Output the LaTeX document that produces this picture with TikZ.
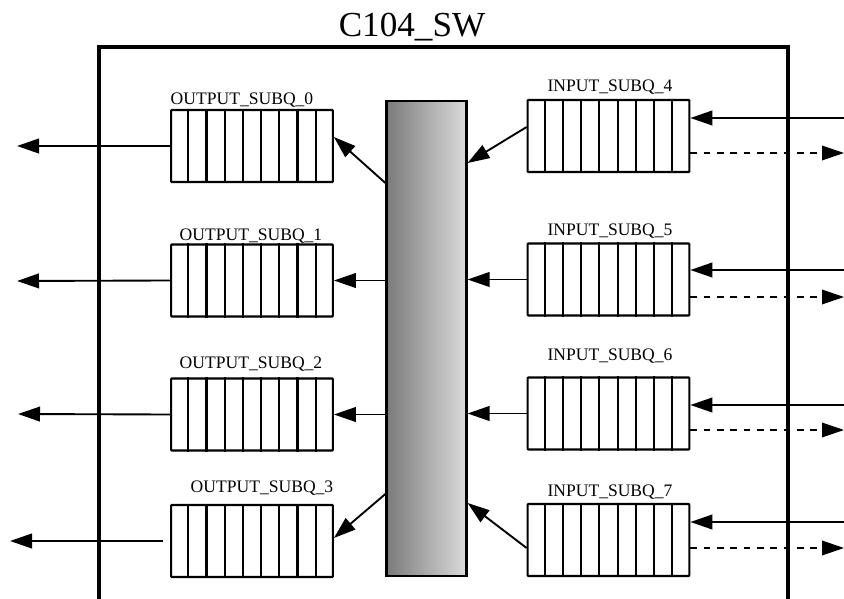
\documentclass[tikz,border=0pt]{standalone}
\usepackage{fontspec}
\setmainfont{Liberation Serif}
\usetikzlibrary{arrows.meta, calc}
\tikzset{
  queue/.style={rectangle,draw,line width=1.8pt,rounded corners=0.6pt,inner sep=0pt,minimum width=48.5mm,minimum height=21.6mm},
  qlabel/.style={anchor=base,inner sep=0pt,font=\fontsize{15}{18}\selectfont},
  fabric/.style={rectangle,draw,line width=1.8pt,inner sep=0pt,minimum width=24mm,minimum height=142.5mm,
    left color=black!52,middle color=black!20,right color=black!14,shading angle=90},
  line/.style={-{Triangle[length=6.6mm,width=4.4mm]},line width=1.6pt},
  dline/.style={line,dash pattern=on 2mm off 2mm,line width=1.1pt}
}

\begin{document}
\begin{tikzpicture}[x=0.3mm,y=-0.3mm]
\useasboundingbox (0,0) rectangle (844,599);
% switch outline, cut at the bottom
\node[anchor=base,inner sep=0pt,font=\fontsize{30}{36}\selectfont] (title) at (412,37) {C104\_SW};
\draw[line width=3pt] (99,599) -- (99,47) -- (788,47) -- (788,599);

% crossbar
\node[fabric,shading=axis] (xbar) at (426.5,338.5) {};

% output side
\node[queue] (out0) at (252,146) {};
\node[queue] (out1) at (252,280.5) {};
\node[queue] (out2) at (252,414.5) {};
\node[queue] (out3) at (252,541) {};
\node[qlabel] (lab0) at (242,105) {OUTPUT\_SUBQ\_0};
\node[qlabel] (lab1) at (251,240) {OUTPUT\_SUBQ\_1};
\node[qlabel] (lab2) at (251,368) {OUTPUT\_SUBQ\_2};
\node[qlabel] (lab3) at (262,492) {OUTPUT\_SUBQ\_3};

% input side
\node[queue] (in4) at (608.5,136) {};
\node[queue] (in5) at (608.5,279.5) {};
\node[queue] (in6) at (608.5,413.5) {};
\node[queue] (in7) at (608.5,540) {};
\node[qlabel] (lab4) at (610,92) {INPUT\_SUBQ\_4};
\node[qlabel] (lab5) at (610,235) {INPUT\_SUBQ\_5};
\node[qlabel] (lab6) at (610,360) {INPUT\_SUBQ\_6};
\node[qlabel] (lab7) at (610,496) {INPUT\_SUBQ\_7};

% queue slots
\foreach \q in {out0,out1,out2,out3,in4,in5,in6,in7}
  \foreach \k in {1,...,8}
    \draw[line width=1.8pt] ($(\q.north west)!\k/9!(\q.north east)$) -- ($(\q.south west)!\k/9!(\q.south east)$);

% free ends
\coordinate (oe0) at (17,146);
\coordinate (oe1) at (17,281);
\coordinate (oe2) at (18,414);
\coordinate (oe3) at (10,541);
\coordinate (ie4) at (844,118);
\coordinate (de4) at (844,153);
\coordinate (ie5) at (844,270);
\coordinate (de5) at (844,297);
\coordinate (ie6) at (844,405);
\coordinate (de6) at (844,430);
\coordinate (ie7) at (844,522);
\coordinate (de7) at (844,548);

% crossbar to output queues
\draw[line] (xbar.west |- out0.south) -- ($(out0.east)+(0,-9)$);
\draw[line] (xbar.west |- out1.east) -- (out1.east);
\draw[line] (xbar.west |- out2.east) -- (out2.east);
\draw[line] ($(xbar.west |- out3.north)+(0,-10)$) -- ($(out3.east)+(0,-3)$);

% output queues leave the switch
\draw[line] (out0.west) -- (oe0);
\draw[line] (out1.west) -- (oe1);
\draw[line] (out2.west) -- (oe2);
\draw[line] ($(out3.west)+(-7,0)$) -- (oe3);

% input queues to crossbar
\draw[line] ($(in4.west)+(0,-9)$) -- ($(xbar.east)+(0,-175.5)$);
\draw[line] (in5.west) -- (xbar.east |- in5.west);
\draw[line] (in6.west) -- (xbar.east |- in6.west);
\draw[line] ($(in7.west)+(0,8)$) -- (xbar.east |- in7.north);

% links into and out of the switch
\draw[line] (ie4) -- (in4.east |- ie4);
\draw[line] (ie5) -- (in5.east |- ie5);
\draw[line] (ie6) -- (in6.east |- ie6);
\draw[line] (ie7) -- (in7.east |- ie7);
\draw[dline] (in4.east |- de4) -- (de4);
\draw[dline] (in5.east |- de5) -- (de5);
\draw[dline] (in6.east |- de6) -- (de6);
\draw[dline] (in7.east |- de7) -- (de7);
\end{tikzpicture}
\end{document}
